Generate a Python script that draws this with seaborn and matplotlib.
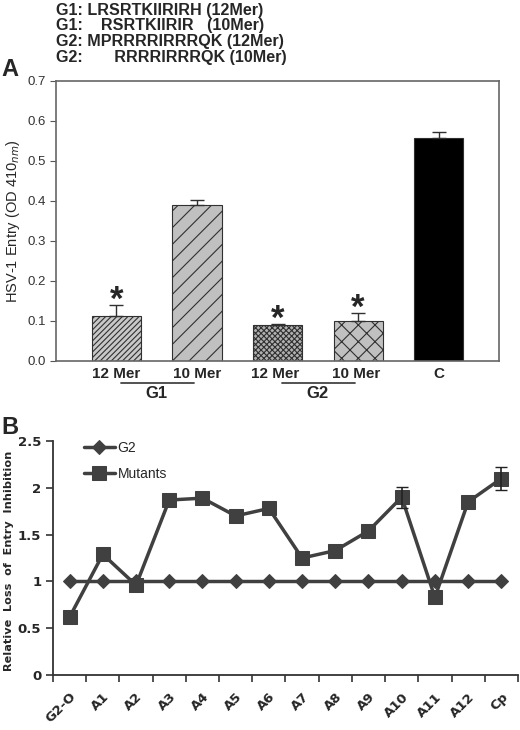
import seaborn as sns
import matplotlib.pyplot as plt
import numpy as np

# ---- panel A data ----
bar_labels = ["12 Mer", "10 Mer", "12 Mer ", "10 Mer ", "C"]
bar_values = [0.112, 0.390, 0.090, 0.100, 0.558]
bar_err = [0.027, 0.012, 0.002, 0.020, 0.015]
starred = [True, False, True, True, False]
seq_lines = ["G1: LRSRTKIIRIRH (12Mer)",
             "G1:    RSRTKIIRIR   (10Mer)",
             "G2: MPRRRRIRRRQK (12Mer)",
             "G2:       RRRRIRRRQK (10Mer)"]

# ---- panel B data ----
mut_labels = ["G2-O", "A1", "A2", "A3", "A4", "A5", "A6", "A7", "A8",
              "A9", "A10", "A11", "A12", "Cp"]
g2_values = [1.0] * 14
mutant_values = [0.62, 1.29, 0.96, 1.87, 1.89, 1.70, 1.78, 1.25, 1.33,
                 1.54, 1.90, 0.83, 1.85, 2.10]
mutant_err = [0, 0, 0, 0, 0, 0, 0, 0, 0, 0, 0.11, 0, 0, 0.12]

sns.set_style("white")
plt.rcParams["font.family"] = ["Liberation Sans", "DejaVu Sans"]
plt.rcParams["hatch.linewidth"] = 0.8

fig = plt.figure(figsize=(5.2, 7.3), dpi=100)

# -------- Panel A --------
ax1 = fig.add_axes([0.1077, 0.5055, 0.852, 0.3836])
sns.barplot(x=bar_labels, y=bar_values, ax=ax1, width=0.61,
            color="#c0c0c0", edgecolor="#303030", linewidth=0.8)
fills = ["#c8c8c8", "#c0c0c0", "#b0b0b0", "#c0c0c0", "black"]
hatches = ["//////", "//", "xxxxxx", "xx", None]
for patch, fc, h in zip(ax1.patches, fills, hatches):
    patch.set_facecolor(fc)
    if h:
        patch.set_hatch(h)
xs = np.arange(len(bar_values))
ax1.errorbar(xs, bar_values, yerr=[np.zeros(len(bar_err)), bar_err],
             fmt="none", ecolor="#303030", elinewidth=1, capsize=5)
for x, v, e, s in zip(xs, bar_values, bar_err, starred):
    if s:
        ax1.text(x, v + e + 0.012, "*", ha="center", va="center",
                 fontsize=25, fontweight="bold")
ax1.set_xlim(-0.75, 4.75)
ax1.set_ylim(0, 0.7)
ax1.set_yticks(np.arange(0, 0.71, 0.1))
ax1.set_yticklabels([f"{t:.1f}" for t in np.arange(0, 0.71, 0.1)],
                    fontsize=9.5, color="#333333")
ax1.set_xticks(xs)
ax1.set_xticklabels(bar_labels, fontsize=11, fontweight="bold")
ax1.tick_params(axis="x", length=0, pad=4)
ax1.tick_params(axis="y", left=True, length=4, color="#555555")
for sp in ax1.spines.values():
    sp.set_color("#666666")
    sp.set_linewidth(1.2)
ax1.set_ylabel("HSV-1 Entry (OD 410$_{nm}$)", fontsize=10.5)
# group underlines and labels
for (a, b), name in [((0, 1), "G1"), ((2, 3), "G2")]:
    ax1.plot([a + 0.06, b - 0.04], [-0.055, -0.055], color="#444444",
             lw=1.3, clip_on=False, transform=ax1.transData)
    ax1.text((a + b) / 2, -0.063, name, ha="center", va="top",
             fontsize=12, fontweight="bold", transform=ax1.transData)

for i, line in enumerate(seq_lines):
    fig.text(0.108, 0.986 - i * 0.0215, line, fontsize=11.6,
             fontweight="bold", va="center", ha="left")
fig.text(0.002, 0.905, "A", fontsize=17, fontweight="bold", va="center")

# -------- Panel B --------
ax2 = fig.add_axes([0.102, 0.0753, 0.894, 0.3205])
pos = np.arange(len(mut_labels))
dark = "#404040"
sns.lineplot(x=pos, y=g2_values, ax=ax2, color=dark, lw=2.5, marker="D",
             markersize=7, markeredgecolor=dark, label="G2")
sns.lineplot(x=pos, y=mutant_values, ax=ax2, color=dark, lw=2.5,
             marker="s", markersize=10, markeredgecolor=dark,
             label="Mutants")
err_idx = [i for i, e in enumerate(mutant_err) if e > 0]
ax2.errorbar(pos[err_idx], np.array(mutant_values)[err_idx],
             yerr=np.array(mutant_err)[err_idx], fmt="none",
             ecolor="#222222", elinewidth=1.2, capsize=4)
ax2.set_xlim(-0.5, 13.5)
ax2.set_ylim(0, 2.5)
ax2.set_yticks([0, 0.5, 1, 1.5, 2, 2.5])
ax2.set_yticklabels(["0", "0.5", "1", "1.5", "2", "2.5"], fontsize=9.5,
                    fontweight="bold", family=["DejaVu Sans"])
ax2.set_xticks(pos)
ax2.set_xticklabels(mut_labels, rotation=45, ha="right",
                    rotation_mode="anchor", fontsize=9.5, fontweight="bold",
                    family=["DejaVu Sans"])
ax2.set_xticks(np.arange(-0.5, 14, 1), minor=True)
ax2.tick_params(axis="x", which="major", length=0, pad=11)
ax2.tick_params(axis="x", which="minor", bottom=True, length=5,
                color="#333333", width=1.2)
ax2.tick_params(axis="y", left=True, length=5, color="#333333", width=1.2)
sns.despine(ax=ax2)
for sp in ["left", "bottom"]:
    ax2.spines[sp].set_color("#333333")
    ax2.spines[sp].set_linewidth(1.3)
ax2.set_ylabel("Relative  Loss  of  Entry  Inhibition", fontsize=8.1,
               fontweight="bold", family=["DejaVu Sans"])
ax2.yaxis.set_label_coords(-0.084, 0.49)
leg = ax2.legend(loc="upper left", frameon=False, fontsize=10,
                 bbox_to_anchor=(0.04, 1.055), handlelength=2.2,
                 labelspacing=0.9, handletextpad=0.2)
fig.text(0.002, 0.414, "B", fontsize=17, fontweight="bold", va="center")

fig.savefig("out.png", dpi=100)
